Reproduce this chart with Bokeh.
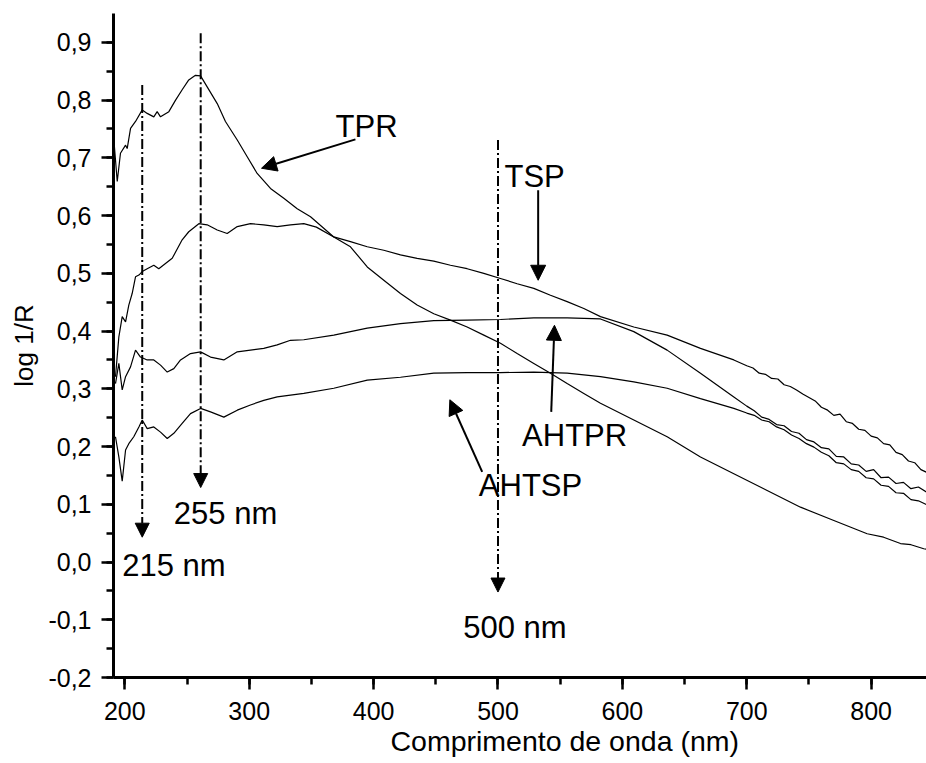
from bokeh.plotting import figure
from bokeh.models import Arrow, NormalHead, Label, CustomJSTickFormatter, FixedTicker, Range1d, Title
from bokeh.embed import file_html
from bokeh.resources import INLINE

# ---------------- data ----------------
tpr_x = [191.2, 193.9, 196.5, 200.6, 201.9, 204.6, 208.6, 214, 218, 223.3, 226, 228.7, 235.4, 240.8,
         246.1, 251.4, 256.8, 260.9, 266.2, 274.3, 280.9, 290.4, 298.4, 306.4, 317.1, 327.8, 338.6,
         349.3, 368, 381.4, 394.9, 408.2, 421.6, 435, 448.4, 461.8, 475.2, 488.6, 502, 515.4, 528.8,
         542.2, 555.6, 569, 582.4, 609.2, 636, 662.8, 689.6, 716.4, 743.2, 770, 796.8, 810, 823.6, 832, 842.3, 846]
tpr_y = [0.731, 0.659, 0.708, 0.722, 0.716, 0.751, 0.763, 0.783, 0.777, 0.771, 0.780, 0.771, 0.780, 0.800,
         0.818, 0.835, 0.843, 0.842, 0.823, 0.794, 0.763, 0.731, 0.702, 0.673, 0.647, 0.630, 0.612,
         0.598, 0.563, 0.546, 0.511, 0.488, 0.465, 0.445, 0.430, 0.419, 0.407, 0.393, 0.379, 0.361, 0.344,
         0.327, 0.309, 0.292, 0.275, 0.246, 0.217, 0.182, 0.153, 0.124, 0.095, 0.072, 0.049, 0.043, 0.032, 0.030, 0.023, 0.022]

tsp_x = [192.5, 195.2, 197.9, 200.6, 203.2, 205.9, 208.6, 211.3, 214, 218, 223.3, 227.3, 232.7, 238.1,
         246.1, 251.4, 259.5, 266.2, 274.3, 282.3, 290.4, 301, 311.7, 322.5, 333.2, 343.9, 354, 368,
         381.4, 394.9, 408.2, 421.6, 435, 448.4, 461.8, 475.2, 488.6, 502, 515.4, 528.8, 542.2, 555.6,
         569, 582.4, 609.2, 636, 662.8, 689.6, 700, 705, 710, 715, 720, 725, 730, 735, 740, 745, 750,
         755, 760, 765, 770, 775, 780, 785, 790, 795, 800, 805, 810, 815, 820, 825, 830, 835, 840, 846]
tsp_y = [0.321, 0.390, 0.425, 0.416, 0.445, 0.465, 0.494, 0.497, 0.503, 0.508, 0.514, 0.508, 0.517, 0.526,
         0.558, 0.572, 0.586, 0.584, 0.575, 0.569, 0.581, 0.586, 0.584, 0.581, 0.584, 0.586, 0.580, 0.563,
         0.555, 0.546, 0.540, 0.532, 0.526, 0.521, 0.514, 0.508, 0.500, 0.491, 0.482, 0.474, 0.462, 0.451,
         0.439, 0.425, 0.407, 0.393, 0.370, 0.350, 0.340, 0.336, 0.327, 0.325, 0.318, 0.317, 0.307, 0.304,
         0.298, 0.291, 0.285, 0.279, 0.268, 0.263, 0.254, 0.256, 0.243, 0.240, 0.230, 0.228, 0.218, 0.215,
         0.205, 0.203, 0.190, 0.186, 0.175, 0.172, 0.160, 0.154]

ahtpr_x = [192.5, 195.2, 197.9, 200.6, 204.6, 208.6, 212.6, 218, 223.3, 228.7, 234.1, 239.4, 244.8,
           252.8, 260.9, 268.9, 279.6, 290.4, 301, 311.7, 322.5, 333.2, 343.9, 368, 394.9, 421.6, 448.4,
           475.2, 502, 528.8, 555.6, 582.4, 609.2, 636, 662.8, 689.6, 700, 706, 712, 718, 724, 730, 736,
           742, 748, 754, 760, 766, 772, 778, 784, 790, 796, 802, 808, 814, 820, 826, 832, 838, 846]
ahtpr_y = [0.309, 0.344, 0.298, 0.321, 0.338, 0.367, 0.355, 0.350, 0.350, 0.341, 0.329, 0.335, 0.350,
           0.361, 0.364, 0.355, 0.350, 0.364, 0.367, 0.370, 0.376, 0.384, 0.385, 0.393, 0.405, 0.413, 0.418,
           0.419, 0.420, 0.423, 0.423, 0.421, 0.399, 0.367, 0.327, 0.286, 0.270, 0.262, 0.251, 0.247, 0.238,
           0.236, 0.226, 0.223, 0.212, 0.208, 0.198, 0.196, 0.183, 0.182, 0.170, 0.168, 0.157, 0.160, 0.146,
           0.147, 0.136, 0.138, 0.127, 0.130, 0.119]

ahtsp_x = [192.5, 195.2, 197.9, 200.6, 203.2, 207.2, 211.3, 214, 218, 223.3, 228.7, 234.1, 239.4, 246.1,
           252.8, 260.9, 268.9, 279.6, 290.4, 301, 311.7, 322.5, 333.2, 343.9, 368, 394.9, 421.6, 448.4,
           475.2, 502, 528.8, 555.6, 582.4, 609.2, 636, 662.8, 689.6, 700, 706, 712, 718, 724, 730, 736,
           742, 748, 754, 760, 766, 772, 778, 784, 790, 796, 802, 808, 814, 820, 826, 832, 838, 846]
ahtsp_y = [0.217, 0.182, 0.140, 0.194, 0.205, 0.217, 0.234, 0.246, 0.231, 0.234, 0.225, 0.214, 0.223, 0.240,
           0.257, 0.266, 0.260, 0.251, 0.263, 0.272, 0.280, 0.286, 0.289, 0.292, 0.301, 0.315, 0.320, 0.327,
           0.328, 0.328, 0.329, 0.327, 0.321, 0.312, 0.301, 0.283, 0.266, 0.258, 0.254, 0.246, 0.243, 0.234,
           0.229, 0.220, 0.214, 0.205, 0.199, 0.190, 0.184, 0.172, 0.170, 0.160, 0.157, 0.146, 0.144, 0.133,
           0.131, 0.120, 0.119, 0.108, 0.106, 0.098]

x_ticks = [200, 300, 400, 500, 600, 700, 800]
x_minor = [200, 250, 300, 350, 400, 450, 500, 550, 600, 650, 700, 750, 800]
y_ticks = [-0.2, -0.1, 0.0, 0.1, 0.2, 0.3, 0.4, 0.5, 0.6, 0.7, 0.8, 0.9]
y_minor = [-0.2, -0.15, -0.1, -0.05, 0.0, 0.05, 0.1, 0.15, 0.2, 0.25, 0.3, 0.35, 0.4, 0.45,
           0.5, 0.55, 0.6, 0.65, 0.7, 0.75, 0.8, 0.85, 0.9]

x_title = "Comprimento de onda (nm)"
y_title = "log 1/R"

# peak markers (wavelength position, top, arrow tip, label)
marker_x = [214, 261, 500]
marker_top = [0.826, 0.916, 0.731]
marker_tip = [0.043, 0.129, -0.052]
marker_text = ["215 nm", "255 nm", "500 nm"]
marker_lx = [197.9, 239.4, 472.0]
marker_ly = [-0.006, 0.084, -0.113]

# series name labels and pointer arrows
names = ["TPR", "TSP", "AHTPR", "AHTSP"]
name_x = [369.4, 505.2, 519.4, 484.6]
name_y = [0.755, 0.667, 0.2196, 0.133]
ptr_x0 = [385.4, 532.3, 542.8, 487.3]
ptr_y0 = [0.732, 0.644, 0.26, 0.156]
ptr_x1 = [309.9, 532.3, 545.4, 461.3]
ptr_y1 = [0.682, 0.488, 0.41, 0.281]

FONT = "Liberation Sans"

p = figure(width=926, height=763, x_range=Range1d(190.9, 844.5), y_range=Range1d(-0.2, 0.95),
           output_backend="svg", toolbar_location=None,
           min_border_left=113, min_border_right=0, min_border_top=13, min_border_bottom=86)
p.grid.visible = False
p.outline_line_color = None
p.background_fill_color = "white"
p.border_fill_color = "white"

for xs, ys in [(tpr_x, tpr_y), (tsp_x, tsp_y), (ahtpr_x, ahtpr_y), (ahtsp_x, ahtsp_y)]:
    p.line(xs, ys, line_color="black", line_width=1.2)

for mx, mt, mb, txt, lx, ly in zip(marker_x, marker_top, marker_tip, marker_text, marker_lx, marker_ly):
    p.add_layout(Arrow(x_start=mx, y_start=mt, x_end=mx, y_end=mb, line_color="black", line_width=2,
                       line_dash="10 3 2 3",
                       end=NormalHead(size=14, fill_color="black", line_color="black", line_width=1)))
    p.add_layout(Label(x=lx, y=ly, text=txt, text_font=FONT, text_font_size="31px",
                       text_baseline="middle", text_align="left", text_color="black"))

for nm, nx, ny, x0, y0, x1, y1 in zip(names, name_x, name_y, ptr_x0, ptr_y0, ptr_x1, ptr_y1):
    p.add_layout(Arrow(x_start=x0, y_start=y0, x_end=x1, y_end=y1, line_color="black", line_width=2,
                       end=NormalHead(size=15, fill_color="black", line_color="black", line_width=1)))
    p.add_layout(Label(x=nx, y=ny, text=nm, text_font=FONT, text_font_size="31px",
                       text_baseline="middle", text_align="left", text_color="black"))

p.xaxis.ticker = FixedTicker(ticks=x_ticks, minor_ticks=x_minor)
p.yaxis.ticker = FixedTicker(ticks=y_ticks, minor_ticks=y_minor)
p.yaxis.formatter = CustomJSTickFormatter(code="return tick.toFixed(1).replace('.', ',');")
p.yaxis.axis_label = y_title

# x-axis title below the axis; in the original it sits right of the frame centre
p.add_layout(Title(text=x_title, align="left", offset=277, standoff=0, text_font=FONT,
                   text_font_size="28.5px", text_font_style="normal", text_color="black"), "below")

for ax in (p.xaxis, p.yaxis):
    ax.axis_line_width = 3
    ax.axis_line_color = "black"
    ax.major_tick_in = 0
    ax.major_tick_out = 12
    ax.minor_tick_in = 0
    ax.minor_tick_out = 7
    ax.major_tick_line_width = 2.5
    ax.minor_tick_line_width = 2.5
    ax.major_tick_line_color = "black"
    ax.minor_tick_line_color = "black"
    ax.major_label_text_font = FONT
    ax.major_label_text_font_size = "25px"
    ax.major_label_text_color = "black"
    ax.axis_label_text_font = FONT
    ax.axis_label_text_font_size = "26px"
    ax.axis_label_text_font_style = "normal"
    ax.axis_label_text_color = "black"

p.xaxis.major_label_standoff = 12
p.yaxis.major_label_standoff = 10
p.yaxis.axis_label_standoff = 6

open("out.html", "w").write(file_html(p, INLINE))
